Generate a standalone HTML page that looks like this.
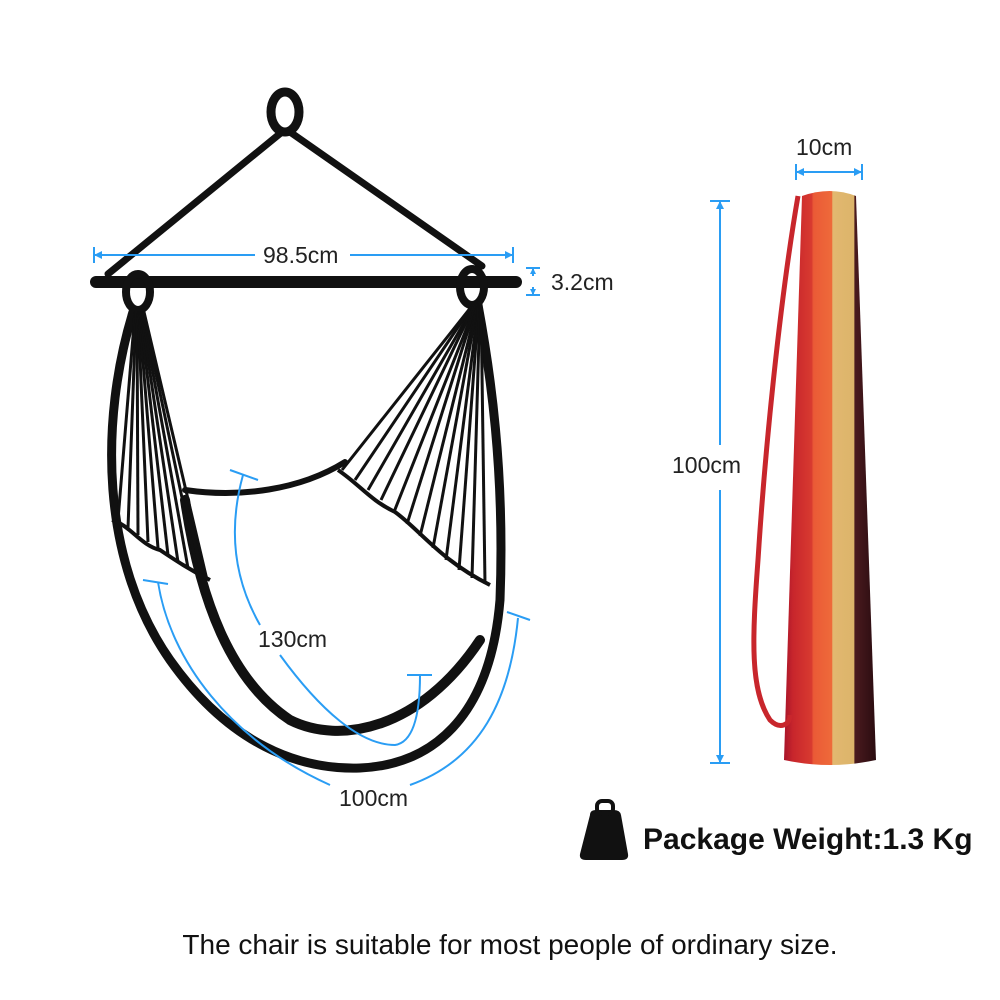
<!DOCTYPE html>
<html><head><meta charset="utf-8"><style>
html,body{margin:0;padding:0;background:#fff;}
svg{display:block}
text{font-family:"Liberation Sans",Arial,sans-serif}
</style></head><body>
<svg width="1000" height="1000" viewBox="0 0 1000 1000" xmlns="http://www.w3.org/2000/svg">
<defs>
<linearGradient id="bag" x1="0" x2="1" y1="0" y2="0">
<stop offset="0" stop-color="#a8142a"/><stop offset="0.1" stop-color="#c8262c"/>
<stop offset="0.3" stop-color="#d83a30"/><stop offset="0.32" stop-color="#ea5a36"/>
<stop offset="0.52" stop-color="#ee6a3a"/><stop offset="0.53" stop-color="#e2b870"/>
<stop offset="0.76" stop-color="#dcb46a"/><stop offset="0.77" stop-color="#4a1a1e"/>
<stop offset="1" stop-color="#2a0c10"/>
</linearGradient>
</defs>
<!-- hanger -->
<g stroke="#111" fill="none" stroke-linecap="round">
<ellipse cx="285" cy="112" rx="14" ry="20" stroke-width="9"/>
<path d="M282 132 L108 274" stroke-width="7"/>
<path d="M290 132 L482 266" stroke-width="7"/>
<line x1="96" y1="282" x2="516" y2="282" stroke-width="12"/>
<ellipse cx="138" cy="292" rx="12" ry="18" stroke-width="8"/>
<ellipse cx="472" cy="287" rx="12" ry="18" stroke-width="8"/>
<path d="M133 312 C100 420 100 560 170 660 C230 745 300 770 360 768 C430 765 490 720 500 600 C505 470 490 370 478 305" stroke-width="9"/>
<path d="M185 500 C200 600 230 680 290 720 C340 745 420 730 480 640" stroke-width="10"/>
<path d="M185 490 C240 498 300 490 345 462" stroke-width="6"/>
</g>
<g stroke="#111" stroke-width="3" fill="none">
<path d="M135 312 L118 520"/><path d="M136 312 L128 528"/><path d="M137 312 L138 535"/>
<path d="M138 312 L148 542"/><path d="M139 312 L158 548"/><path d="M140 312 L168 555"/>
<path d="M141 312 L178 562"/><path d="M142 312 L188 568"/><path d="M143 312 L198 574"/>
<path d="M144 312 L207 580"/>
<path d="M112 520 C130 525 140 545 160 550 C175 560 190 570 210 580" stroke-width="4"/>
</g>
<g stroke="#111" stroke-width="3" fill="none">
<path d="M475 302 L342 470"/><path d="M475 302 L355 480"/><path d="M476 302 L368 490"/>
<path d="M476 302 L381 500"/><path d="M477 302 L394 512"/><path d="M477 302 L407 524"/>
<path d="M478 302 L420 536"/><path d="M478 302 L433 548"/><path d="M479 302 L446 560"/>
<path d="M479 302 L459 570"/><path d="M480 302 L472 578"/><path d="M481 302 L485 584"/>
<path d="M338 470 C360 485 370 500 395 512 C420 530 440 560 490 585" stroke-width="4"/>
</g>
<g stroke="#2a9df4" stroke-width="2" fill="none">
<line x1="94" y1="255" x2="255" y2="255"/><line x1="350" y1="255" x2="513" y2="255"/>
<line x1="94" y1="247" x2="94" y2="263"/><line x1="513" y1="247" x2="513" y2="263"/>
<line x1="526" y1="268" x2="540" y2="268"/><line x1="533" y1="268" x2="533" y2="276"/>
<line x1="526" y1="295" x2="540" y2="295"/><line x1="533" y1="287" x2="533" y2="295"/>
<path d="M243 475 C225 540 240 590 260 625"/>
<path d="M280 655 C320 710 360 745 395 745 C415 742 420 710 420 675"/>
<line x1="230" y1="470" x2="258" y2="480"/><line x1="407" y1="675" x2="432" y2="675"/>
<path d="M158 582 C170 660 230 740 330 785"/>
<path d="M410 785 C480 760 510 700 518 618"/>
<line x1="143" y1="580" x2="168" y2="584"/><line x1="507" y1="612" x2="530" y2="620"/>
<line x1="796" y1="172" x2="862" y2="172"/><line x1="796" y1="164" x2="796" y2="180"/><line x1="862" y1="164" x2="862" y2="180"/>
<line x1="720" y1="201" x2="720" y2="445"/><line x1="720" y1="490" x2="720" y2="763"/>
<line x1="710" y1="201" x2="730" y2="201"/><line x1="710" y1="763" x2="730" y2="763"/>
</g>
<g fill="#2a9df4">
<polygon points="94,255 102,251 102,259"/><polygon points="513,255 505,251 505,259"/>
<polygon points="533,268 530,274 536,274"/><polygon points="533,295 530,289 536,289"/>
<polygon points="796,172 804,168 804,176"/><polygon points="862,172 854,168 854,176"/>
<polygon points="720,201 716,209 724,209"/><polygon points="720,763 716,755 724,755"/>
</g>
<g font-size="23" fill="#222">
<text x="263" y="263">98.5cm</text>
<text x="551" y="290">3.2cm</text>
<text x="258" y="647">130cm</text>
<text x="339" y="806">100cm</text>
<text x="796" y="155">10cm</text>
<text x="672" y="473">100cm</text>
</g>
<path d="M802 196 Q830 186 856 196 L876 760 Q830 770 784 760 Z" fill="url(#bag)"/>
<path d="M798 196 C780 300 765 450 758 560 C752 640 750 690 770 720 C780 730 790 725 790 715" stroke="#c8262c" stroke-width="5" fill="none"/>
<path d="M590 815 Q590 810 596 810 L614 810 Q620 810 621 815 L628 854 Q629 860 622 860 L586 860 Q579 860 580 854 Z" fill="#111"/>
<rect x="597" y="801" width="16" height="13" rx="5" fill="none" stroke="#111" stroke-width="4"/>
<text x="643" y="849" font-size="30" font-weight="bold" fill="#111">Package Weight:1.3 Kg</text>
<text x="510" y="954" font-size="28" fill="#111" text-anchor="middle">The chair is suitable for most people of ordinary size.</text>
</svg>
</body></html>
